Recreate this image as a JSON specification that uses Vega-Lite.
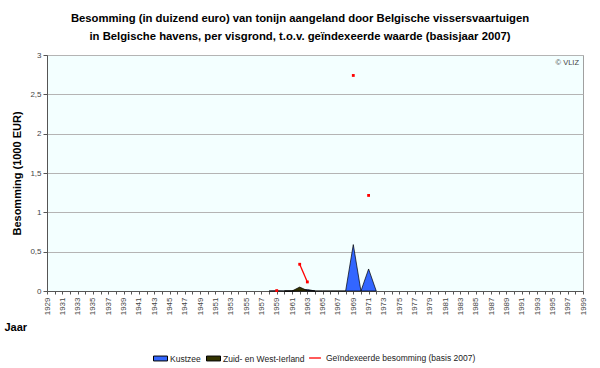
{
  "$schema": "https://vega.github.io/schema/vega-lite/v6.json",
  "autosize": "none",
  "width": 536,
  "height": 236,
  "padding": {"left": 47, "top": 55, "right": 17, "bottom": 77},
  "background": "#FFFFFF",
  "config": {
    "view": {"fill": "#F3FFFF", "stroke": "#A0A0A0", "strokeWidth": 1},
    "font": "Liberation Sans"
  },
  "title": {
    "text": ["Besomming (in duizend euro) van tonijn aangeland door Belgische vissersvaartuigen", "in Belgische havens, per visgrond, t.o.v. geïndexeerde waarde (basisjaar 2007)"],
    "fontSize": 11.3,
    "fontWeight": "bold",
    "font": "Liberation Sans",
    "color": "#000000",
    "lineHeight": 18,
    "offset": 9,
    "dx": -15,
    "anchor": "middle"
  },
  "datasets": {
    "areas": [
      {"Jaar": 1958, "reeks": "Kustzee", "waarde": 0},
      {"Jaar": 1959, "reeks": "Kustzee", "waarde": 0.003},
      {"Jaar": 1960, "reeks": "Kustzee", "waarde": 0},
      {"Jaar": 1961, "reeks": "Kustzee", "waarde": 0},
      {"Jaar": 1962, "reeks": "Kustzee", "waarde": 0.01},
      {"Jaar": 1963, "reeks": "Kustzee", "waarde": 0.02},
      {"Jaar": 1964, "reeks": "Kustzee", "waarde": 0},
      {"Jaar": 1965, "reeks": "Kustzee", "waarde": 0},
      {"Jaar": 1966, "reeks": "Kustzee", "waarde": 0},
      {"Jaar": 1967, "reeks": "Kustzee", "waarde": 0},
      {"Jaar": 1968, "reeks": "Kustzee", "waarde": 0},
      {"Jaar": 1969, "reeks": "Kustzee", "waarde": 0.59},
      {"Jaar": 1970, "reeks": "Kustzee", "waarde": 0},
      {"Jaar": 1971, "reeks": "Kustzee", "waarde": 0.28},
      {"Jaar": 1972, "reeks": "Kustzee", "waarde": 0},
      {"Jaar": 1960, "reeks": "Zuid- en West-Ierland", "waarde": 0},
      {"Jaar": 1961, "reeks": "Zuid- en West-Ierland", "waarde": 0},
      {"Jaar": 1962, "reeks": "Zuid- en West-Ierland", "waarde": 0.05},
      {"Jaar": 1963, "reeks": "Zuid- en West-Ierland", "waarde": 0.005},
      {"Jaar": 1964, "reeks": "Zuid- en West-Ierland", "waarde": 0}
    ],
    "index": [
      {"Jaar": 1959, "waarde": 0.005},
      {"Jaar": 1960, "waarde": null},
      {"Jaar": 1961, "waarde": null},
      {"Jaar": 1962, "waarde": 0.34},
      {"Jaar": 1963, "waarde": 0.115},
      {"Jaar": 1964, "waarde": null},
      {"Jaar": 1968, "waarde": null},
      {"Jaar": 1969, "waarde": 2.74},
      {"Jaar": 1970, "waarde": null},
      {"Jaar": 1971, "waarde": 1.215},
      {"Jaar": 1972, "waarde": null}
    ],
    "bron": [{"tekst": "© VLIZ"}]
  },
  "layer": [
    {
      "data": {"name": "areas"},
      "mark": {"type": "area", "stroke": "#000000", "strokeWidth": 0.7, "fillOpacity": 1},
      "encoding": {
        "x": {
          "field": "Jaar",
          "type": "quantitative",
          "scale": {"domain": [1929, 1999], "nice": false, "zero": false},
          "axis": {
            "title": "Jaar", "titleFontSize": 11, "titleFontWeight": "bold", "titleColor": "#000000",
            "titleAnchor": "start", "titleAlign": "left", "titleX": -43, "titleY": 39, "titleBaseline": "alphabetic",
            "values": [1929,1930,1931,1932,1933,1934,1935,1936,1937,1938,1939,1940,1941,1942,1943,1944,1945,1946,1947,1948,1949,1950,1951,1952,1953,1954,1955,1956,1957,1958,1959,1960,1961,1962,1963,1964,1965,1966,1967,1968,1969,1970,1971,1972,1973,1974,1975,1976,1977,1978,1979,1980,1981,1982,1983,1984,1985,1986,1987,1988,1989,1990,1991,1992,1993,1994,1995,1996,1997,1998,1999],
            "labelExpr": "(datum.value - 1929) % 2 === 0 ? format(datum.value, 'd') : ''",
            "labelAngle": 270, "labelAlign": "right", "labelBaseline": "middle", "labelFontSize": 8,
            "labelColor": "#444444", "labelPadding": 3, "labelOverlap": false, "labelFlush": false,
            "grid": false, "domainColor": "#555555", "tickColor": "#555555", "tickSize": 3
          }
        },
        "y": {
          "field": "waarde",
          "type": "quantitative",
          "stack": null,
          "scale": {"domain": [0, 3], "nice": false},
          "axis": {
            "title": "Besomming (1000 EUR)", "titleFontSize": 11, "titleFontWeight": "bold", "titleColor": "#000000", "titlePadding": 7,
            "values": [0, 0.5, 1, 1.5, 2, 2.5, 3],
            "labelExpr": "replace(format(datum.value, '~g'), '.', ',')",
            "labelFontSize": 8, "labelColor": "#444444", "labelOverlap": false,
            "gridColor": "#B4B4B4", "gridWidth": 1, "domainColor": "#555555", "tickColor": "#555555", "tickSize": 4
          }
        },
        "fill": {
          "field": "reeks",
          "type": "nominal",
          "sort": ["Kustzee", "Zuid- en West-Ierland"],
          "scale": {
            "domain": ["Kustzee", "Zuid- en West-Ierland"],
            "range": ["#3366FF", "#333300"]
          },
          "legend": {
            "title": null,
            "orient": "none",
            "direction": "horizontal",
            "legendX": 106,
            "legendY": 296,
            "labelFontSize": 8.5,
            "labelColor": "#222222",
            "columnPadding": 3,
            "labelOffset": 2,
            "symbolSize": 196,
            "symbolType": "M-1,-0.35H1V0.35H-1Z",
            "symbolStrokeColor": "#000000",
            "symbolStrokeWidth": 1
          }
        },
        "order": {"field": "reeks", "type": "nominal"}
      }
    },
    {
      "data": {"name": "index"},
      "mark": {"type": "line", "strokeWidth": 1.3, "invalid": "break-paths-filter-domains", "point": {"filled": true, "shape": "square", "size": 8, "strokeWidth": 0, "color": "#FF0000"}},
      "encoding": {
        "x": {
          "field": "Jaar",
          "type": "quantitative",
          "scale": {"domain": [1929, 1999], "nice": false, "zero": false},
          "axis": {
            "title": "Jaar", "titleFontSize": 11, "titleFontWeight": "bold", "titleColor": "#000000",
            "titleAnchor": "start", "titleAlign": "left", "titleX": -43, "titleY": 39, "titleBaseline": "alphabetic",
            "values": [1929,1930,1931,1932,1933,1934,1935,1936,1937,1938,1939,1940,1941,1942,1943,1944,1945,1946,1947,1948,1949,1950,1951,1952,1953,1954,1955,1956,1957,1958,1959,1960,1961,1962,1963,1964,1965,1966,1967,1968,1969,1970,1971,1972,1973,1974,1975,1976,1977,1978,1979,1980,1981,1982,1983,1984,1985,1986,1987,1988,1989,1990,1991,1992,1993,1994,1995,1996,1997,1998,1999],
            "labelExpr": "(datum.value - 1929) % 2 === 0 ? format(datum.value, 'd') : ''",
            "labelAngle": 270, "labelAlign": "right", "labelBaseline": "middle", "labelFontSize": 8,
            "labelColor": "#444444", "labelPadding": 3, "labelOverlap": false, "labelFlush": false,
            "grid": false, "domainColor": "#555555", "tickColor": "#555555", "tickSize": 3
          }
        },
        "y": {
          "field": "waarde",
          "type": "quantitative",
          "scale": {"domain": [0, 3], "nice": false},
          "axis": {
            "title": "Besomming (1000 EUR)", "titleFontSize": 11, "titleFontWeight": "bold", "titleColor": "#000000", "titlePadding": 7,
            "values": [0, 0.5, 1, 1.5, 2, 2.5, 3],
            "labelExpr": "replace(format(datum.value, '~g'), '.', ',')",
            "labelFontSize": 8, "labelColor": "#444444", "labelOverlap": false,
            "gridColor": "#B4B4B4", "gridWidth": 1, "domainColor": "#555555", "tickColor": "#555555", "tickSize": 4
          }
        },
        "stroke": {
          "datum": "Geïndexeerde besomming (basis 2007)",
          "type": "nominal",
          "scale": {"range": ["#FF0000"]},
          "legend": {
            "title": null,
            "orient": "none",
            "direction": "horizontal",
            "legendX": 261,
            "legendY": 296,
            "labelFontSize": 8.5,
            "labelColor": "#222222",
            "labelOffset": 4,
            "symbolType": "stroke",
            "symbolSize": 140,
            "symbolStrokeWidth": 1.3
          }
        }
      }
    },
    {
      "data": {"name": "bron"},
      "mark": {"type": "text", "align": "right", "baseline": "top", "dx": -4, "dy": 4, "fontSize": 7.5, "color": "#444444"},
      "encoding": {
        "x": {
          "datum": 1999,
          "type": "quantitative",
          "scale": {"domain": [1929, 1999], "nice": false, "zero": false},
          "axis": {
            "title": "Jaar", "titleFontSize": 11, "titleFontWeight": "bold", "titleColor": "#000000",
            "titleAnchor": "start", "titleAlign": "left", "titleX": -43, "titleY": 39, "titleBaseline": "alphabetic",
            "values": [1929,1930,1931,1932,1933,1934,1935,1936,1937,1938,1939,1940,1941,1942,1943,1944,1945,1946,1947,1948,1949,1950,1951,1952,1953,1954,1955,1956,1957,1958,1959,1960,1961,1962,1963,1964,1965,1966,1967,1968,1969,1970,1971,1972,1973,1974,1975,1976,1977,1978,1979,1980,1981,1982,1983,1984,1985,1986,1987,1988,1989,1990,1991,1992,1993,1994,1995,1996,1997,1998,1999],
            "labelExpr": "(datum.value - 1929) % 2 === 0 ? format(datum.value, 'd') : ''",
            "labelAngle": 270, "labelAlign": "right", "labelBaseline": "middle", "labelFontSize": 8,
            "labelColor": "#444444", "labelPadding": 3, "labelOverlap": false, "labelFlush": false,
            "grid": false, "domainColor": "#555555", "tickColor": "#555555", "tickSize": 3
          }
        },
        "y": {
          "datum": 3,
          "type": "quantitative",
          "scale": {"domain": [0, 3], "nice": false},
          "axis": {
            "title": "Besomming (1000 EUR)", "titleFontSize": 11, "titleFontWeight": "bold", "titleColor": "#000000", "titlePadding": 7,
            "values": [0, 0.5, 1, 1.5, 2, 2.5, 3],
            "labelExpr": "replace(format(datum.value, '~g'), '.', ',')",
            "labelFontSize": 8, "labelColor": "#444444", "labelOverlap": false,
            "gridColor": "#B4B4B4", "gridWidth": 1, "domainColor": "#555555", "tickColor": "#555555", "tickSize": 4
          }
        },
        "text": {"field": "tekst"}
      }
    }
  ]
}
